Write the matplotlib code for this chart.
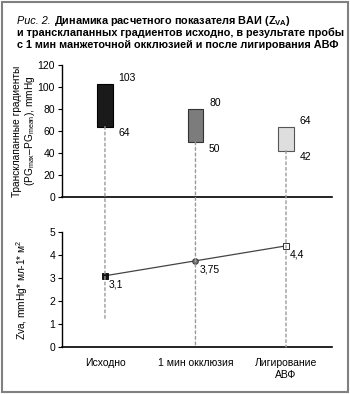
import matplotlib
matplotlib.use("Agg")
import matplotlib.pyplot as plt
from matplotlib.patches import Rectangle, ConnectionPatch

plt.rcParams['font.family'] = ['Liberation Sans', 'DejaVu Sans']
plt.rcParams['mathtext.fontset'] = 'custom'
plt.rcParams['mathtext.rm'] = 'Liberation Sans'
plt.rcParams['mathtext.bf'] = 'Liberation Sans:bold'
plt.rcParams['font.size'] = 7.5

# data
categories = ["Исходно", "1 мин окклюзия", "Лигирование\nАВФ"]
grad_low = [64, 50, 42]
grad_high = [103, 80, 64]
zva = [3.1, 3.75, 4.4]
zva_labels = ["3,1", "3,75", "4,4"]
dash_end = [1.2, 0, 0]

bar_colors = ["#1a1a1a", "#7c7c7c", "#dedede"]
bar_edges = ["#000000", "#333333", "#555555"]

fig = plt.figure(figsize=(3.5, 3.94), dpi=100)

# outer frame
fig.patches.append(Rectangle((2 / 350, 2 / 394), 346 / 350, 390 / 394,
                             transform=fig.transFigure, fill=False,
                             edgecolor="#808080", lw=1.5))

ax1 = fig.add_axes([0.177, 0.5, 0.772, 0.335])
ax2 = fig.add_axes([0.177, 0.119, 0.772, 0.292])

x = list(range(len(categories)))
for ax in (ax1, ax2):
    ax.set_xlim(-0.475, 2.51)
    for s in ("top", "right"):
        ax.spines[s].set_visible(False)
    ax.spines["left"].set_linewidth(1.0)
    ax.spines["bottom"].set_linewidth(1.2)
    ax.tick_params(axis="y", length=3, width=0.8, pad=2, labelsize=7.5)

# top: gradient ranges
ax1.set_ylim(0, 120)
ax1.set_yticks(range(0, 121, 20))
ax1.set_xticks([])
heights = [h - l for h, l in zip(grad_high, grad_low)]
ax1.bar(x, heights, bottom=grad_low, width=0.175, color=bar_colors,
        edgecolor=bar_edges, linewidth=0.8, zorder=3)
for i in x:
    ax1.text(i + 0.15, grad_high[i] + 1, str(grad_high[i]), ha="left", va="bottom", fontsize=7.5)
    ax1.text(i + 0.15, grad_low[i] - 1.5, str(grad_low[i]), ha="left", va="top", fontsize=7.5)
ax1.set_ylabel("Трансклапанные градиенты\n(PG$_{\\rm max}$–PG$_{\\rm mean}$), mmHg",
               fontsize=7.3, linespacing=1.1)
ax1.yaxis.set_label_coords(-0.092, 0.5)

# dashed connectors
for i in x:
    con = ConnectionPatch(xyA=(i, grad_low[i]), coordsA=ax1.transData,
                          xyB=(i, dash_end[i]), coordsB=ax2.transData,
                          color="#9a9a9a", lw=1.0, linestyle=(0, (2, 2)), zorder=1)
    fig.add_artist(con)

# bottom: Zva
ax2.set_ylim(0, 5)
ax2.set_yticks(range(0, 6))
ax2.set_xticks(x)
ax2.set_xticklabels(categories, fontsize=7.5, linespacing=1.2)
ax2.tick_params(axis="x", length=0, pad=8)
ax2.plot(x, zva, color="#444444", lw=0.9, zorder=3)
ax2.plot(x[0], zva[0], marker="s", ms=4, mfc="#111111", mec="#000000", mew=0.6, zorder=4)
ax2.plot(x[1], zva[1], marker="o", ms=4, mfc="#777777", mec="#333333", mew=0.7, zorder=4)
ax2.plot(x[2], zva[2], marker="s", ms=4, mfc="white", mec="#333333", mew=0.7, zorder=4)
for i in x:
    ax2.annotate(zva_labels[i], (i, zva[i]), xytext=(3, -6), textcoords="offset points",
                 ha="left", va="center", fontsize=7.5)
ax2.set_ylabel("Zva, mmHg* мл-1* м$^2$", fontsize=7.3)
ax2.yaxis.set_label_coords(-0.12, 0.5)

# title: italic prefix + bold text
r = fig.canvas.get_renderer()
fs = 7.8
t0 = fig.text(17 / 350, 1 - 21 / 394, "Рис. 2.", fontsize=fs, style="italic", va="center")
bb = t0.get_window_extent(r)
fig.text((bb.x1 + 3) / 350, 1 - 21 / 394, "Динамика расчетного показателя ВАИ (Z$_{\\bf VA}$)",
         fontsize=fs, weight="bold", va="center")
fig.text(17 / 350, 1 - 33 / 394, "и трансклапанных градиентов исходно, в результате пробы",
         fontsize=fs, weight="bold", va="center")
fig.text(17 / 350, 1 - 44.5 / 394, "с 1 мин манжеточной окклюзией и после лигирования АВФ",
         fontsize=fs, weight="bold", va="center")

fig.savefig("out.png", dpi=100)
